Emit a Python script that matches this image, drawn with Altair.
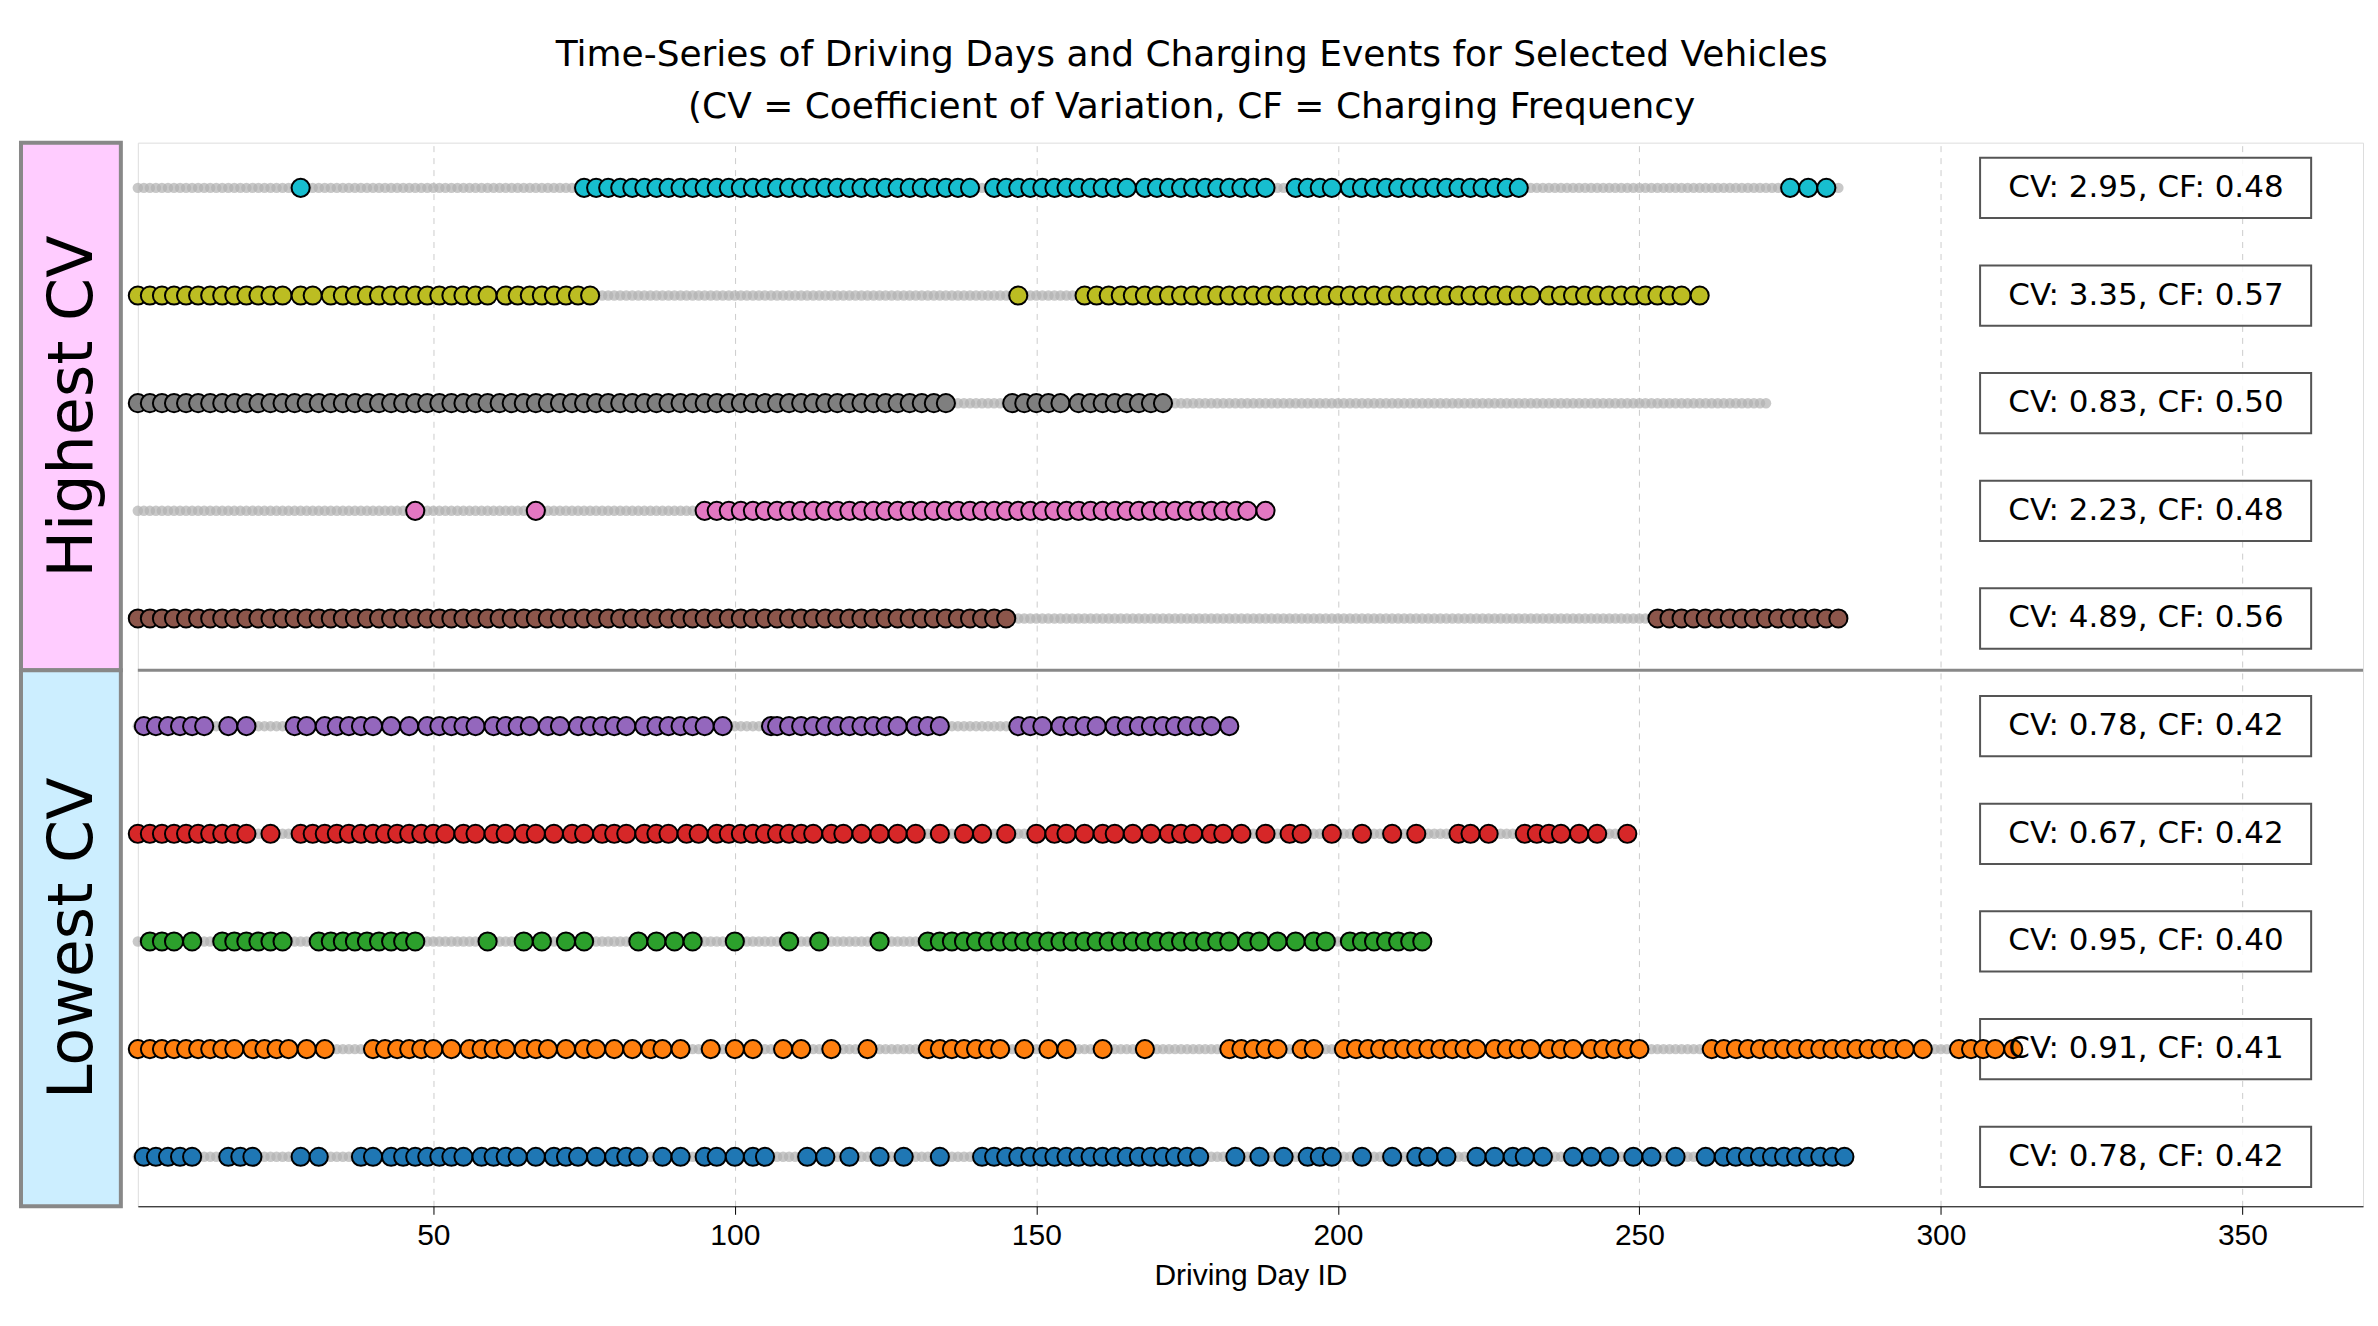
import altair as alt
import pandas as pd

colors = ["#17becf", "#bcbd22", "#7f7f7f", "#e377c2", "#8c564b",
          "#9467bd", "#d62728", "#2ca02c", "#ff7f0e", "#1f77b4"]
last_day = [283, 260, 271, 188, 283, 182, 248, 214, 312, 284]
labels = ["CV: 2.95, CF: 0.48", "CV: 3.35, CF: 0.57", "CV: 0.83, CF: 0.50",
          "CV: 2.23, CF: 0.48", "CV: 4.89, CF: 0.56", "CV: 0.78, CF: 0.42",
          "CV: 0.67, CF: 0.42", "CV: 0.95, CF: 0.40", "CV: 0.91, CF: 0.41",
          "CV: 0.78, CF: 0.42"]
charge_days = [
    [28, 75,77,79,81,83,85,87,89,91,93,95,97,99,101,103,105,107,109,111,113,115,117,119,121,123,125,127,129,131,133,135,137,139,
     143,145,147,149,151,153,155,157,159,161,163,165,168,170,172,174,176,178,180,182,184,186,188,
     193,195,197,199,202,204,206,208,210,212,214,216,218,220,222,224,226,228,230, 275,278,281],
    [1,3,5,7,9,11,13,15,17,19,21,23,25,28,30,33,35,37,39,41,43,45,47,49,51,53,55,57,59,62,64,66,68,70,72,74,76, 147,
     158,160,162,164,166,168,170,172,174,176,178,180,182,184,186,188,190,192,194,196,198,200,202,204,206,208,210,212,214,216,218,220,222,224,226,228,230,232,
     235,237,239,241,243,245,247,249,251,253,255,257,260],
    [1,3,5,7,9,11,13,15,17,19,21,23,25,27,29,31,33,35,37,39,41,43,45,47,49,51,53,55,57,59,61,63,65,67,69,71,73,75,77,79,81,83,85,87,89,91,93,95,97,99,
     101,103,105,107,109,111,113,115,117,119,121,123,125,127,129,131,133,135, 146,148,150,152,154,157,159,161,163,165,167,169,171],
    [47, 67, 95,97,99,101,103,105,107,109,111,113,115,117,119,121,123,125,127,129,131,133,135,137,139,141,143,145,147,149,151,153,155,157,159,
     161,163,165,167,169,171,173,175,177,179,181,183,185,188],
    [1,3,5,7,9,11,13,15,17,19,21,23,25,27,29,31,33,35,37,39,41,43,45,47,49,51,53,55,57,59,61,63,65,67,69,71,73,75,77,79,81,83,85,87,89,91,93,95,97,99,
     101,103,105,107,109,111,113,115,117,119,121,123,125,127,129,131,133,135,137,139,141,143,145,
     253,255,257,259,261,263,265,267,269,271,273,275,277,279,281,283],
    [2,4,6,8,10,12,16,19, 27,29,32,34,36,38,40,43,46, 49,51,53,55,57,60,62,64,66,69,71,74, 76,78,80,82,85,87,89,91,93,95,98,
     106,107,109,111,113,115,117,119,121,123,125,127,130,132,134, 147,149,151,154,156,158,160, 163,165,167,169,171,173,175,177,179,182],
    [1,3,5,7,9,11,13,15,17,19, 23, 28,30,32,34,36,38,40,42,44,46,48,50,52, 55,57,60,62,65,67,70,73,75,78,80,82,85,87,89,92,
     94,97,99,101,103,105,107,109,111,113,116,118,121,124,127,130,134,138,141,145, 150,153,155,158,161,163,166,169,172,174,176,179,181,184,188,
     192,194,199,204,209,213, 220,222,225, 231,233,235,237,240,243,248],
    [3,5,7, 10, 15,17,19,21,23,25, 31,33,35,37,39,41,43,45,47, 59, 65,68,72,75, 84,87,90,93, 100, 109,114, 124,
     132,134,136,138,140,142,144,146,148,150,152,154,156,158,160,162,164,166,168,170,172,174,176,178,180,182,185,187,190,193,196,198,
     202,204,206,208,210,212,214],
    [1,3,5,7,9,11,13,15,17,20,22,24,26,29,32, 40,42,44,46,48,50,53,56,58,60,62,65,67,69,72,75,77,80,83,86,88,91,
     96,100,103,108,111,116,122, 132,134,136,138,140,142,144,148,152,155,161,168, 182,184,186,188,190,194,196,
     201,203,205,207,209,211,213,215,217,219,221,223,226,228,230,232,235,237,239,242,244,246,248,250,
     262,264,266,268,270,272,274,276,278,280,282,284,286,288,290,292,294,297, 303,305,307,309,312],
    [2,4,6,8,10, 16,18,20, 28,31, 38,40,43,45,47,49,51,53,55,58,60,62,64,67,70,72,74,77,80,82,84,88,91,95,
     97,100,103,105, 112,115,119,124,128,134, 141,143,145,147,149,151,153,155,157,159,161,163,165,167,169,171,173,175,177,
     183,187,191,195,197,199,204,209,213,215,218,223,226,229,231,234, 239,242,245,249,252,256,261,
     264,266,268,270,272,274,276,278,280,282,284],
]
groups = ["Highest CV", "Lowest CV"]
group_colors = ["#ffccff", "#cceeff"]

bg = pd.DataFrame([{"row": i, "day": d} for i in range(10) for d in range(1, last_day[i] + 1)])
ev = pd.DataFrame([{"row": i, "day": d, "c": colors[i]} for i in range(10) for d in charge_days[i]])
lab = pd.DataFrame({"row": list(range(10)), "label": labels,
                    "y1": [r - 0.28 for r in range(10)], "y2": [r + 0.28 for r in range(10)],
                    "x1": [306.5] * 10, "x2": [361.4] * 10, "xm": [334] * 10})
grp = pd.DataFrame({"g": groups, "c": group_colors, "y1": [-0.42, 4.48], "y2": [4.48, 9.46], "ym": [2.03, 6.97]})

W, H = 2228, 1065
yscale = alt.Scale(domain=[-0.42, 9.46], reverse=True, nice=False, zero=False)
xscale = alt.Scale(domain=[1, 370], nice=False, zero=False)
ynone = alt.Y("row:Q", scale=yscale, axis=None)

bgl = alt.Chart(bg).mark_circle(size=110, color="#b0b0b0", opacity=0.7).encode(
    x=alt.X("day:Q", scale=xscale, title="Driving Day ID",
            axis=alt.Axis(values=[50, 100, 150, 200, 250, 300, 350], grid=True, gridDash=[6, 6],
                          gridColor="#cccccc", labelFontSize=30, titleFontSize=30, tickSize=8,
                          labelColor="black", titleColor="black", domainColor="black", tickColor="black",
                          titlePadding=10, labelPadding=6, titleFontWeight="normal")),
    y=ynone)
divider = alt.Chart(pd.DataFrame({"row": [4.48]})).mark_rule(color="#888888", strokeWidth=3).encode(y=alt.Y("row:Q", scale=yscale, axis=None))
boxes = alt.Chart(lab).mark_rect(fill="white", fillOpacity=0.85, stroke="#555555", strokeWidth=2).encode(
    x=alt.X("x1:Q", scale=xscale), x2="x2:Q",
    y=alt.Y("y1:Q", scale=yscale, axis=None), y2="y2:Q")
evl = alt.Chart(ev).mark_circle(size=330, opacity=1, stroke="black", strokeWidth=2).encode(
    x=alt.X("day:Q", scale=xscale), y=ynone, color=alt.Color("c:N", scale=None))
texts = alt.Chart(lab).mark_text(fontSize=31, color="black", font="DejaVu Sans").encode(
    x=alt.X("xm:Q", scale=xscale), y=ynone, text="label:N")
main = alt.layer(bgl, divider, boxes, evl, texts).properties(width=W, height=H)

left = alt.layer(
    alt.Chart(grp).mark_rect(stroke="#888888", strokeWidth=4).encode(
        x=alt.value(0), x2=alt.value(100),
        y=alt.Y("y1:Q", scale=yscale, axis=None), y2="y2:Q", color=alt.Color("c:N", scale=None)),
    alt.Chart(grp).mark_text(angle=270, fontSize=62, color="black", font="DejaVu Sans").encode(
        x=alt.value(52), y=alt.Y("ym:Q", scale=yscale, axis=None), text="g:N"),
).properties(width=100, height=H)

chart = alt.hconcat(left, main, spacing=0).properties(
    padding={"top": 28, "left": 10, "right": 5, "bottom": 5},
    title=alt.Title(["Time-Series of Driving Days and Charging Events for Selected Vehicles",
                     "(CV = Coefficient of Variation, CF = Charging Frequency"],
                    fontSize=36, fontWeight="normal", anchor="middle", font="DejaVu Sans", color="black",
                    lineHeight=52, offset=14)
).configure_view(stroke="black", strokeWidth=2).configure(background="white")

chart.save("out.html", embed_options={"renderer": "svg", "actions": False})
